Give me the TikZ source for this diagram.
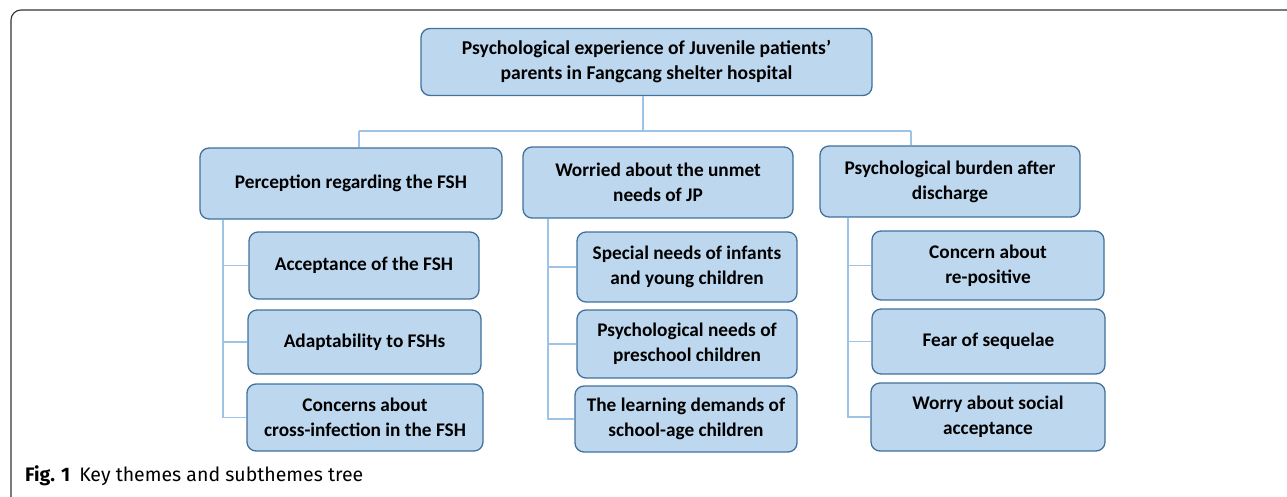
\documentclass[tikz,border=0pt]{standalone}
\usepackage{fontspec}
\setmainfont{Carlito}
\newfontfamily\capfont{Fira Sans}
\usetikzlibrary{positioning}

\definecolor{boxfill}{HTML}{BDD7EE}
\definecolor{boxline}{HTML}{41719C}
\definecolor{treeline}{HTML}{9DC3E6}

\tikzset{
  theme/.style={draw=boxline, fill=boxfill, line width=1.3pt, rounded corners=9pt,
    align=center, font=\fontsize{19.3}{25}\selectfont\bfseries, inner sep=2pt},
  branch/.style={draw=treeline, line width=1.1pt}
}

\begin{document}
\begin{tikzpicture}[x=1pt,y=-1pt]
\useasboundingbox (0,0) rectangle (1287,497);

% frame, open to the right and bottom
\draw[line width=1.1pt, black!80] (11,497) -- (11,20) arc (180:270:10) -- (1287,10);

% root
\node[theme, minimum width=451pt, minimum height=67pt, font=\fontsize{19.6}{25}\selectfont\bfseries] (root) at (646.5,62)
  {Psychological experience of Juvenile patients’\\parents in Fangcang shelter hospital};

% key themes
\node[theme, minimum width=302pt, minimum height=71pt] (perc) at (351,183.5)
  {Perception regarding the FSH};
\node[theme, minimum width=270pt, minimum height=71pt] (worr) at (658,182.5)
  {Worried about the unmet\\needs of JP};
\node[theme, minimum width=260pt, minimum height=71pt] (burd) at (950,181.5)
  {Psychological burden after\\discharge};

% subthemes
\node[theme, minimum width=230pt, minimum height=67pt] (acc) at (364,265.5)
  {Acceptance of the FSH};
\node[theme, minimum width=233pt, minimum height=64pt] (adap) at (364.5,342)
  {Adaptability to FSHs};
\node[theme, minimum width=236pt, minimum height=67pt] (cros) at (365,417.5)
  {Concerns about\\cross-infection in the FSH};

\node[theme, minimum width=220pt, minimum height=70pt] (infa) at (687,267)
  {Special needs of infants\\and young children};
\node[theme, minimum width=220pt, minimum height=68pt] (pres) at (687,344)
  {Psychological needs of\\preschool children};
\node[theme, minimum width=222pt, minimum height=66pt] (lear) at (686,419)
  {The learning demands of\\school-age children};

\node[theme, minimum width=232pt, minimum height=69pt] (repo) at (988,265.5)
  {Concern about\\re-positive};
\node[theme, minimum width=233pt, minimum height=65pt] (sequ) at (988.5,341.5)
  {Fear of sequelae};
\node[theme, minimum width=234pt, minimum height=68pt] (soci) at (988,417)
  {Worry about social\\acceptance};

% tree from root to themes
\coordinate (bus) at (643,131);
\draw[branch] (root.south -| bus) -- (bus);
\draw[branch] (359,131) -- (911,131);
\draw[branch] (359,131) -- (359,0 |- perc.north);
\draw[branch] (911,131) -- (911,0 |- burd.north);

% themes to subthemes
\draw[branch] (223,0 |- perc.south) -- (223,0 |- cros.west) -- (cros.west);
\draw[branch] (223,0 |- acc.west) -- (acc.west);
\draw[branch] (223,0 |- adap.west) -- (adap.west);

\draw[branch] (548,0 |- worr.south) -- (548,0 |- lear.west) -- (lear.west);
\draw[branch] (548,0 |- infa.west) -- (infa.west);
\draw[branch] (548,0 |- pres.west) -- (pres.west);

\draw[branch] (848,0 |- burd.south) -- (848,0 |- soci.west) -- (soci.west);
\draw[branch] (848,0 |- repo.west) -- (repo.west);
\draw[branch] (848,0 |- sequ.west) -- (sequ.west);

% caption
\node[anchor=base west, inner sep=0pt, font=\capfont\fontsize{19.5}{22}\selectfont] (cap) at (25,481)
  {\textbf{Fig. 1}\hspace{9pt}Key themes and subthemes tree};
\end{tikzpicture}
\end{document}
